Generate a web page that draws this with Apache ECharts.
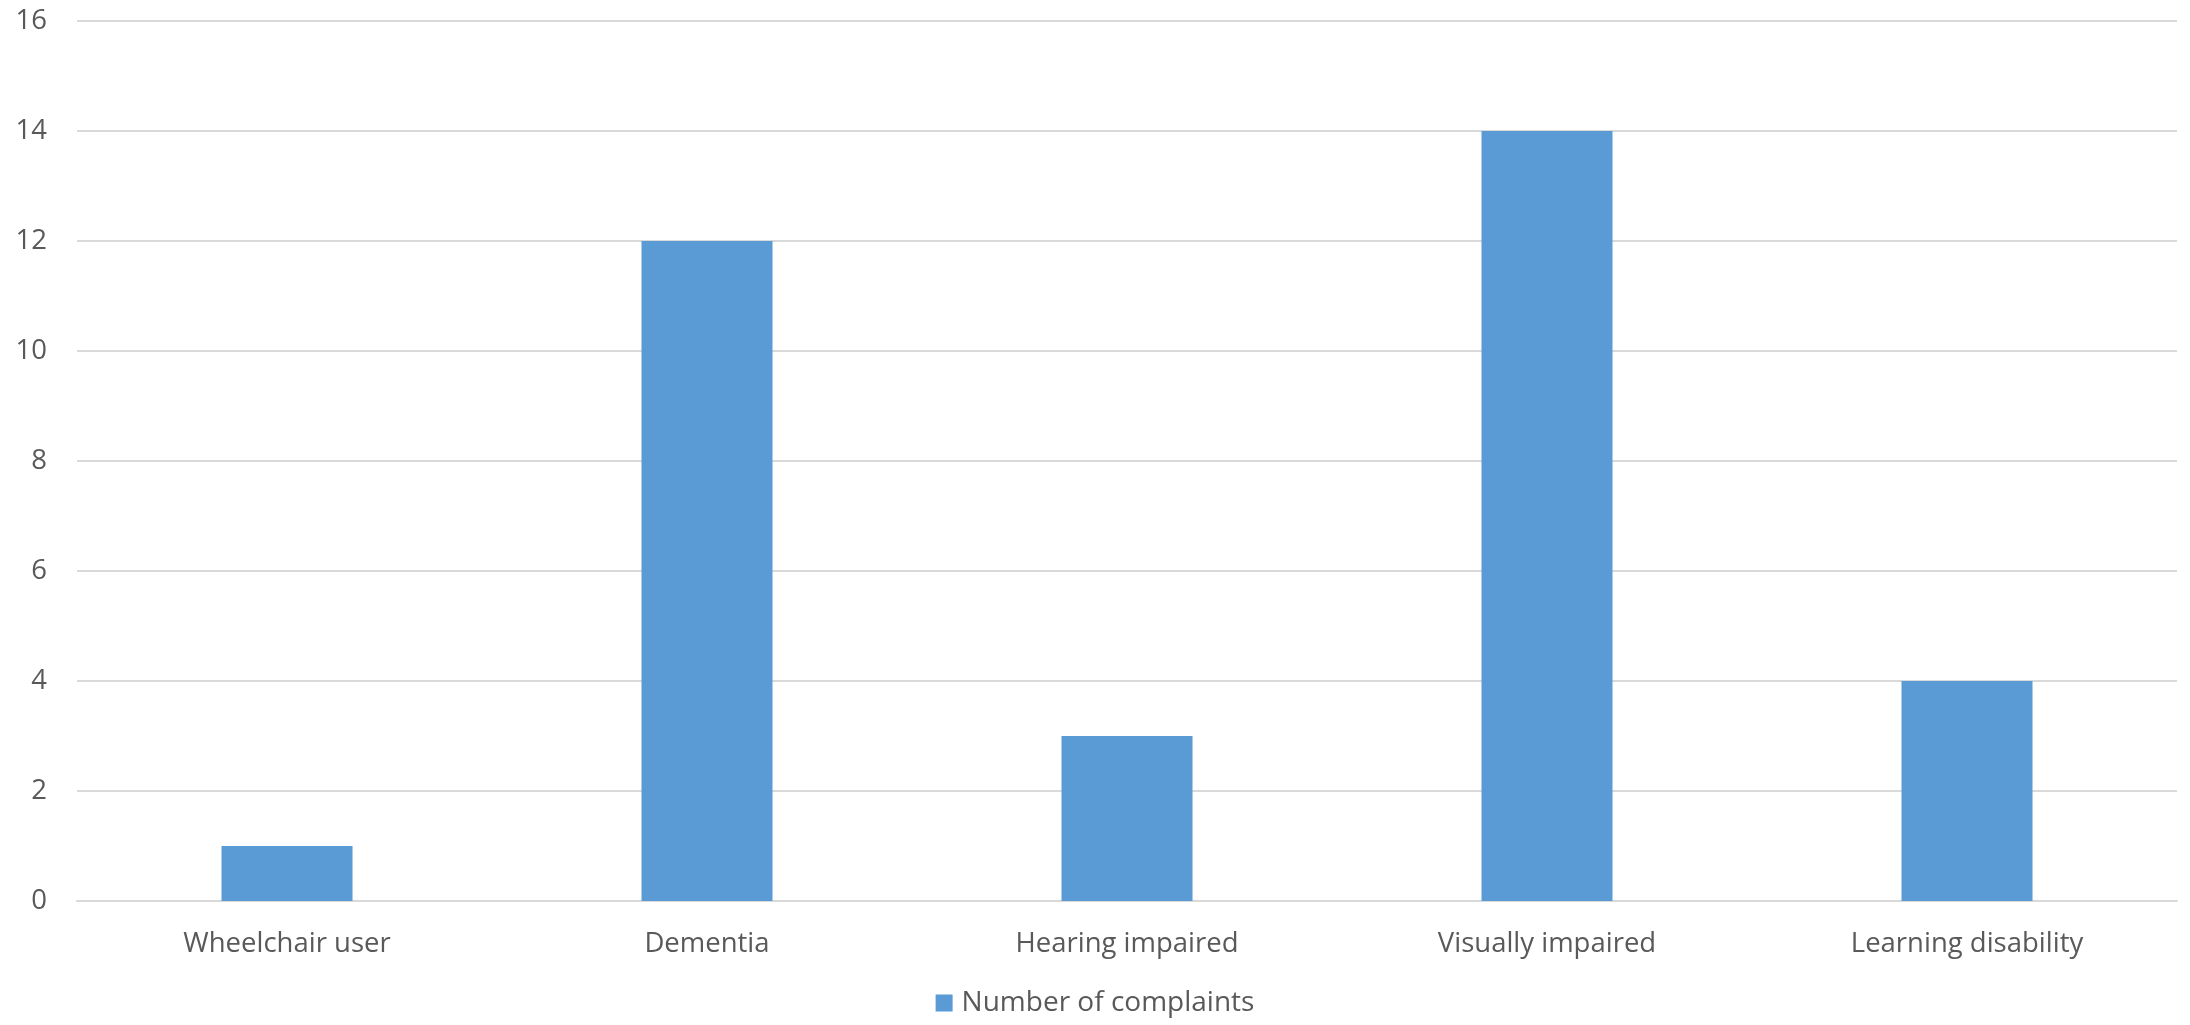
<!DOCTYPE html>
<html><head><meta charset="utf-8">
<script src="https://cdn.jsdelivr.net/npm/echarts@6/dist/echarts.min.js"></script>
<style>html,body{margin:0;padding:0;background:#fff}#c{width:2190px;height:1025px}</style>
</head><body><div id="c"></div>
<script>
const categories = ['Wheelchair user', 'Dementia', 'Hearing impaired', 'Visually impaired', 'Learning disability'];
const complaints = [1, 12, 3, 14, 4];
const seriesName = 'Number of complaints';

const chart = echarts.init(document.getElementById('c'));
const txt = '#595959';
const font = 'Open Sans';
chart.setOption({
  animation: false,
  backgroundColor: '#fff',
  grid: { left: 77, right: 13, top: 21, bottom: 124, containLabel: false },
  legend: {
    bottom: 3, left: 'center',
    itemWidth: 17, itemHeight: 17, itemGap: 10,
    icon: 'rect',
    textStyle: { color: txt, fontSize: 28, fontFamily: font, padding: [0, 0, 0, 4] },
    data: [seriesName]
  },
  xAxis: {
    type: 'category', data: categories,
    axisLine: { show: true, lineStyle: { color: '#d9d9d9', width: 2 } },
    axisTick: { show: false },
    axisLabel: { color: txt, fontSize: 27.5, fontFamily: font, margin: 29 }
  },
  yAxis: {
    type: 'value', min: 0, max: 16, interval: 2,
    axisLine: { show: false }, axisTick: { show: false },
    splitLine: { lineStyle: { color: '#d9d9d9', width: 2 } },
    axisLabel: { color: txt, fontSize: 27.5, fontFamily: font, margin: 30 }
  },
  series: [{
    name: seriesName, type: 'bar', data: complaints,
    barWidth: 131,
    itemStyle: { color: '#5b9bd5' }
  }]
});
</script></body></html>
